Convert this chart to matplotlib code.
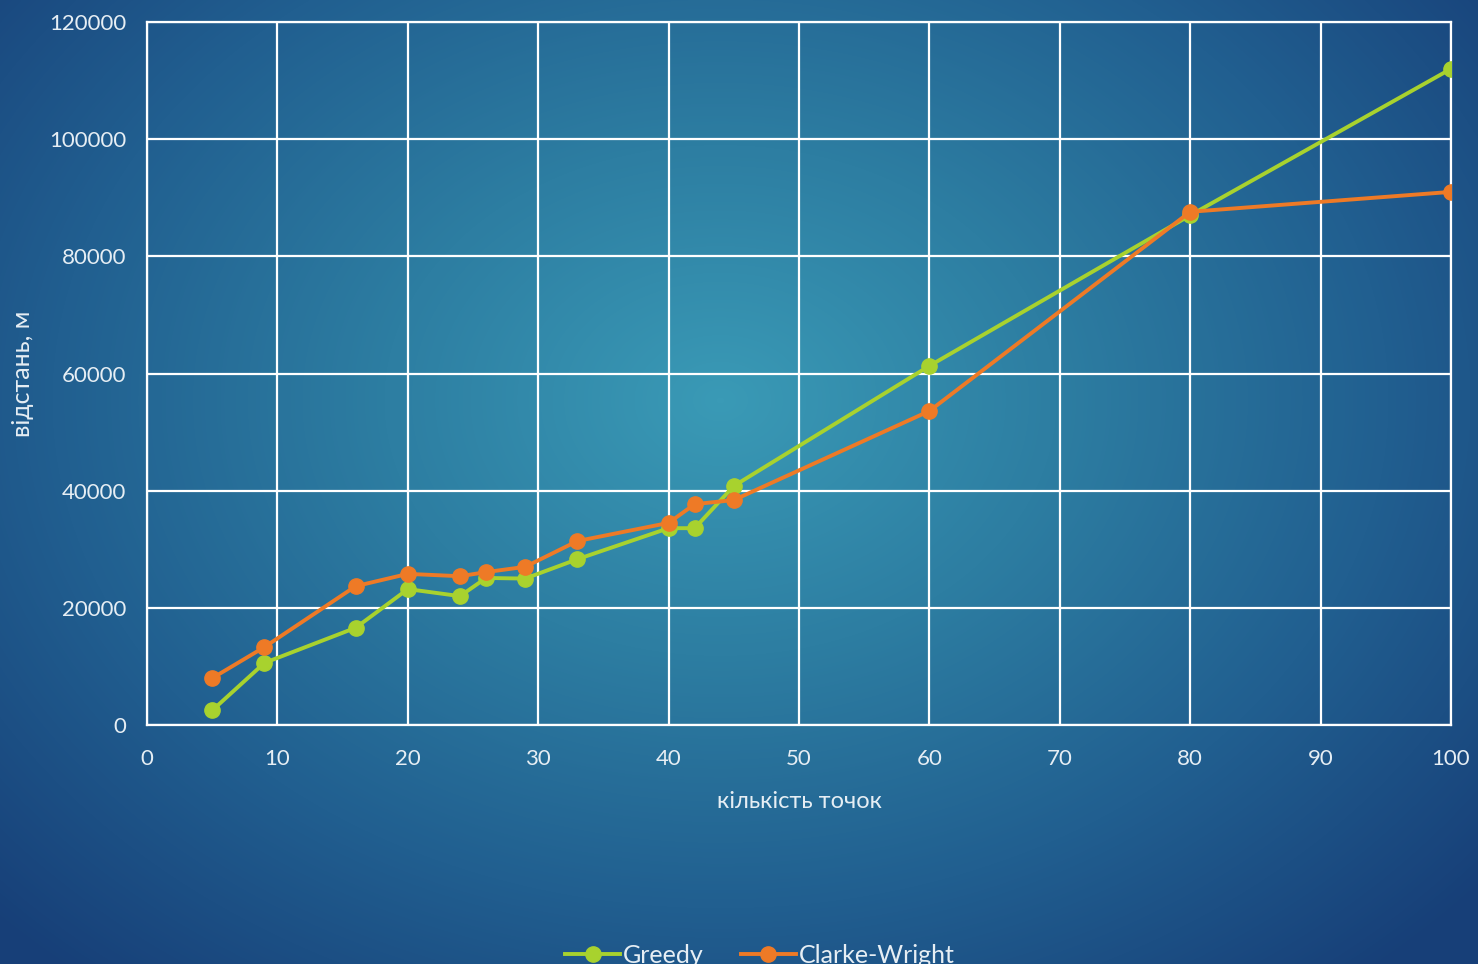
import numpy as np
import matplotlib
matplotlib.use("Agg")
import matplotlib.pyplot as plt
from matplotlib.colors import LinearSegmentedColormap

plt.rcParams['font.family'] = ['Lato', 'DejaVu Sans']

# кількість точок
points = [5, 9, 16, 20, 24, 26, 29, 33, 40, 42, 45, 60, 80, 100]
greedy = [2500, 10600, 16600, 23200, 22000, 25100, 25000, 28300, 33600, 33600, 40800, 61300, 87000, 112000]
clarke_wright = [8000, 13300, 23700, 25800, 25400, 26100, 27000, 31400, 34500, 37700, 38400, 53600, 87600, 91000]

x_ticks = list(range(0, 101, 10))
y_ticks = list(range(0, 120001, 20000))

text_col = '#e6eef4'
green = '#a8d22e'
orange = '#ee7a26'

fig = plt.figure(figsize=(14.78, 9.64), dpi=100)

# radial gradient background
bg = fig.add_axes([0, 0, 1, 1], zorder=-10)
yy, xx = np.mgrid[0:964, 0:1478]
r = np.sqrt(((xx - 720) / 1000.0) ** 2 + ((yy - 400) / 760.0) ** 2)
cmap = LinearSegmentedColormap.from_list('bg', ['#3a9ab6', '#2d7ea2', '#215f90', '#173f78'])
bg.imshow(np.clip(r, 0, 1), cmap=cmap, aspect='auto', vmin=0, vmax=1)
bg.axis('off')

ax = fig.add_axes([0.0995, 0.2479, 0.8822, 0.7293])
ax.patch.set_alpha(0)

ax.plot(points, greedy, color=green, lw=2.8, marker='o', markersize=11, label='Greedy', zorder=3)
ax.plot(points, clarke_wright, color=orange, lw=2.8, marker='o', markersize=11, label='Clarke-Wright', zorder=4)

ax.set_xlim(0, 100)
ax.set_ylim(0, 120000)
ax.set_xticks(x_ticks)
ax.set_yticks(y_ticks)
ax.grid(True, color='white', lw=1.6)
ax.set_axisbelow(True)
for s in ax.spines.values():
    s.set_color('white')
    s.set_linewidth(1.6)
ax.tick_params(length=0, colors=text_col, labelsize=16)
ax.tick_params(axis='x', pad=17)
ax.tick_params(axis='y', pad=15)

ax.set_xlabel('кількість точок', color=text_col, fontsize=17, labelpad=16)
ax.set_ylabel('відстань, м', color=text_col, fontsize=18, labelpad=11)

leg = fig.legend(loc='lower center', bbox_to_anchor=(0.514, -0.026), ncol=2, frameon=False,
                 fontsize=18, handlelength=2.2, columnspacing=1.5, handletextpad=0.1)
for t in leg.get_texts():
    t.set_color(text_col)

fig.savefig('out.png', dpi=100)
